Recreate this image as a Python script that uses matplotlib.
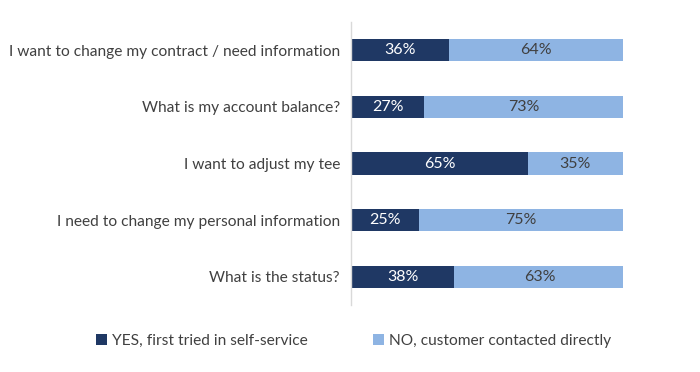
import matplotlib.pyplot as plt
import numpy as np

plt.rcParams['font.family'] = ['Lato', 'DejaVu Sans']

# Data
categories = ["I want to change my contract / need information",
              "What is my account balance?",
              "I want to adjust my tee",
              "I need to change my personal information",
              "What is the status?"]
yes_vals = [36, 27, 65, 25, 38]
no_vals = [64, 73, 35, 75, 63]
yes_label = "YES, first tried in self-service"
no_label = "NO, customer contacted directly"

dark = "#1f3864"
light = "#8eb4e3"

fig = plt.figure(figsize=(7, 3.72), dpi=100)
ax = fig.add_axes([351/700, 1 - 305/372, 272/700, 283/372])

y = np.arange(len(categories))
h = 0.39
ax.barh(y, yes_vals, height=h, color=dark, label=yes_label)
ax.barh(y, no_vals, left=yes_vals, height=h, color=light, label=no_label)

for i in range(len(categories)):
    ax.text(yes_vals[i] / 2, y[i], f"{yes_vals[i]}%", ha='center', va='center',
            color='white', fontsize=11.5)
    ax.text(yes_vals[i] + no_vals[i] / 2, y[i], f"{no_vals[i]}%", ha='center', va='center',
            color='#404040', fontsize=11.5)

ax.set_xlim(0, 100)
ax.set_ylim(len(categories) - 0.5, -0.5)
ax.set_yticks(y)
ax.set_yticklabels(categories, fontsize=11.2, color='#404040')
ax.tick_params(axis='y', length=0, pad=8)
ax.set_xticks([])
for s in ['top', 'right', 'bottom']:
    ax.spines[s].set_visible(False)
ax.spines['left'].set_color('#d9d9d9')
ax.spines['left'].set_linewidth(1)

fig.legend(loc='center', bbox_to_anchor=(0.505, 1 - 341/372), ncol=2, frameon=False,
           fontsize=11.2, handlelength=0.7, handleheight=0.7, handletextpad=0.3,
           columnspacing=4.2, labelcolor='#404040')

fig.savefig("out.png", dpi=100)
